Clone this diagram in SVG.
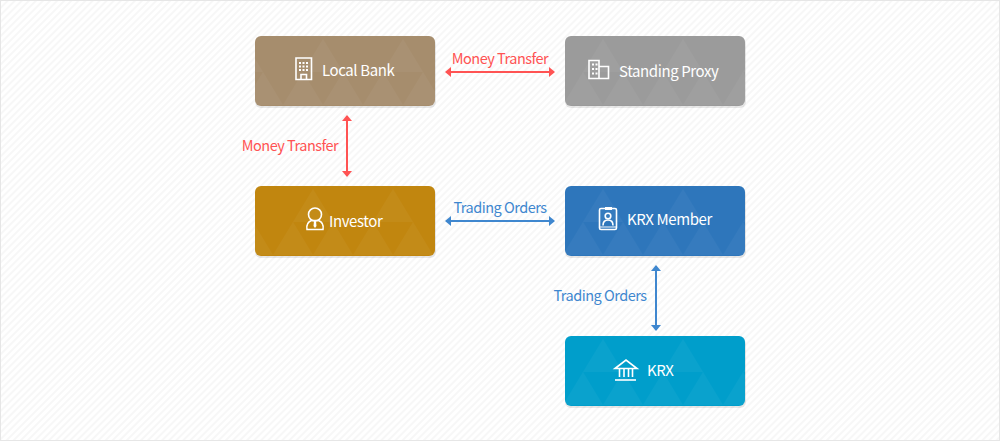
<svg xmlns="http://www.w3.org/2000/svg" width="1000" height="441" viewBox="0 0 1000 441">
<style>
.card{stroke:none}
.shade{fill:#000;opacity:.09}
.tri{fill:#fff;opacity:.04}
.name{font-family:"Noto Sans CJK KR","Noto Sans",sans-serif;font-size:15px;letter-spacing:-.4px;fill:#fff}
.lbl{font-family:"Noto Sans CJK KR","Noto Sans",sans-serif;font-size:14.5px;letter-spacing:-.5px;text-anchor:middle}
.red{fill:#ff5353}
.blue{fill:#3f87cf}
.ico{fill:none;stroke:#fff;stroke-width:1.6}
.conn{fill:none;stroke-width:2}
</style>
<defs>
<pattern id="hatch" width="5" height="5" patternUnits="userSpaceOnUse" patternTransform="rotate(-45)">
<rect width="5" height="5" fill="#fff"/><rect width="5" height="2" fill="#f7f7f7"/>
</pattern>
<g id="tiles"><path class="tri" d="M20 3L40 36H0Z"/><path class="tri" d="M0 36L20 69H-20Z"/><path class="tri" d="M40 36L60 69H20Z"/><path class="tri" d="M80 36L100 69H60Z"/></g>
<pattern id="tA" width="80" height="70" patternUnits="userSpaceOnUse" patternTransform="translate(303,36)"><use href="#tiles"/></pattern>
<pattern id="tB" width="80" height="70" patternUnits="userSpaceOnUse" patternTransform="translate(293,186)"><use href="#tiles"/></pattern>
<pattern id="tC" width="80" height="70" patternUnits="userSpaceOnUse" patternTransform="translate(583,36)"><use href="#tiles"/></pattern>
<pattern id="tD" width="80" height="70" patternUnits="userSpaceOnUse" patternTransform="translate(583,186)"><use href="#tiles"/></pattern>
<pattern id="tE" width="80" height="70" patternUnits="userSpaceOnUse" patternTransform="translate(583,336)"><use href="#tiles"/></pattern>
<marker id="ar" markerWidth="6" markerHeight="10" refX="5" refY="5" orient="auto-start-reverse" markerUnits="userSpaceOnUse"><path d="M0 0L6 5L0 10Z" fill="#ff5353"/></marker>
<marker id="ab" markerWidth="6" markerHeight="10" refX="5" refY="5" orient="auto-start-reverse" markerUnits="userSpaceOnUse"><path d="M0 0L6 5L0 10Z" fill="#3f87cf"/></marker>
</defs>
<rect width="1000" height="441" fill="url(#hatch)"/>
<rect x=".5" y=".5" width="999" height="440" fill="none" stroke="#e6e6e6"/>
<g id="connectors">
<path class="conn" stroke="#ff5353" marker-start="url(#ar)" marker-end="url(#ar)" d="M446 72H554"/>
<path class="conn" stroke="#ff5353" marker-start="url(#ar)" marker-end="url(#ar)" d="M347 116V176"/>
<path class="conn" stroke="#3f87cf" marker-start="url(#ab)" marker-end="url(#ab)" d="M446 221H554"/>
<path class="conn" stroke="#3f87cf" marker-start="url(#ab)" marker-end="url(#ab)" d="M656 266V330"/>
<text class="lbl red" x="500" y="64">Money Transfer</text>
<text class="lbl red" x="290" y="151">Money Transfer</text>
<text class="lbl blue" x="500" y="213">Trading Orders</text>
<text class="lbl blue" x="600" y="301">Trading Orders</text>
</g>
<g id="local-bank">
<rect class="shade" x="255" y="38" width="181" height="70" rx="6"/>
<rect class="card" x="255" y="36" width="180" height="70" rx="6" fill="#a68d6d"/>
<rect x="255" y="36" width="180" height="70" rx="6" fill="url(#tA)"/>
<path class="ico" d="M296 58H311.500V79.500H296ZM301 79.500V74.500H306.500V79.500"/>
<path d="M299 62h2v2h-2zM302.500 62h2v2h-2zM306 62h2v2h-2zM299 65.500h2v2h-2zM302.500 65.500h2v2h-2zM306 65.500h2v2h-2zM299 69h2v2h-2zM302.500 69h2v2h-2zM306 69h2v2h-2z" fill="#fff"/>
<text class="name" x="322" y="76">Local Bank</text>
</g>
<g id="standing-proxy">
<rect class="shade" x="565" y="38" width="181" height="70" rx="6"/>
<rect class="card" x="565" y="36" width="180" height="70" rx="6" fill="#9b9b9b"/>
<rect x="565" y="36" width="180" height="70" rx="6" fill="url(#tC)"/>
<path class="ico" d="M589 60.500H599V78.500H589ZM599 66.500H608.500V78.500H599Z"/>
<path d="M592 63.500h2v2h-2zM595.500 63.500h2v2h-2zM592 68h2v2h-2zM595.500 68h2v2h-2zM592 72.500h2v2h-2zM595.500 72.500h2v2h-2z" fill="#fff"/>
<text class="name" x="619" y="77">Standing Proxy</text>
</g>
<g id="investor">
<rect class="shade" x="255" y="188" width="181" height="70" rx="6"/>
<rect class="card" x="255" y="186" width="180" height="70" rx="6" fill="#c1860f"/>
<rect x="255" y="186" width="180" height="70" rx="6" fill="url(#tB)"/>
<circle class="ico" cx="315" cy="214.500" r="6.500" stroke-width="2"/>
<path class="ico" d="M307 229.500C306 224 309 221.500 311.500 220.500H318.500C321 221.500 324 224 323 229.500Z" stroke-width="2"/>
<path d="M314 221h2l.5 5-1.500 2-1.500-2z" fill="#fff"/>
<text class="name" x="329" y="227">Investor</text>
</g>
<g id="krx-member">
<rect class="shade" x="565" y="188" width="181" height="70" rx="6"/>
<rect class="card" x="565" y="186" width="180" height="70" rx="6" fill="#2e76bb"/>
<rect x="565" y="186" width="180" height="70" rx="6" fill="url(#tD)"/>
<rect class="ico" x="599.500" y="208.500" width="17" height="21" rx="1.500"/>
<rect x="605" y="207" width="7" height="3" fill="#fff"/>
<circle class="ico" cx="608" cy="216" r="2.800" stroke-width="1.300"/>
<path class="ico" d="M603 225.500C603 221.500 605.500 220 608 220S613 221.500 613 225.500" stroke-width="1.300"/>
<path d="M600 226.500h16v1h-16z" fill="#fff"/>
<text class="name" x="627" y="225">KRX Member</text>
</g>
<g id="krx">
<rect class="shade" x="565" y="338" width="181" height="70" rx="6"/>
<rect class="card" x="565" y="336" width="180" height="70" rx="6" fill="#009ecb"/>
<rect x="565" y="336" width="180" height="70" rx="6" fill="url(#tE)"/>
<path class="ico" d="M615 368.500L626 360L637 368.500Z"/>
<path class="ico" d="M619.500 369V377M624 369V377M628.500 369V377M632.500 369V377"/>
<path class="ico" d="M615 380H636" stroke-width="2.200"/>
<text class="name" x="647" y="376">KRX</text>
</g>
</svg>
